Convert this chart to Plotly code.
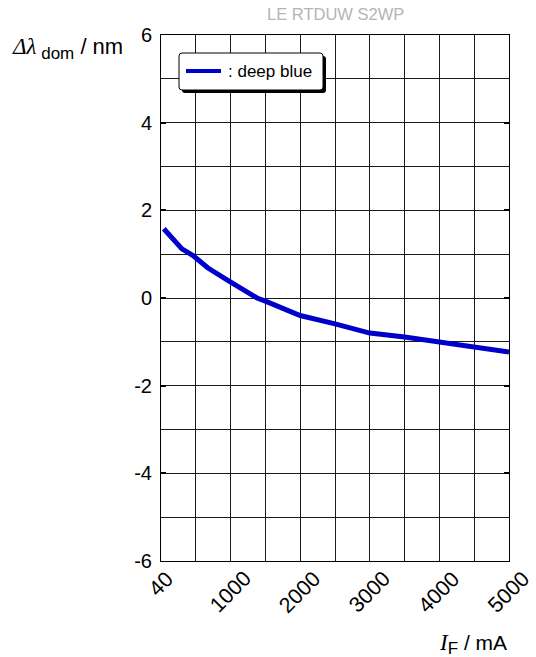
import plotly.graph_objects as go

# Dominant wavelength shift vs. forward current (deep blue)
current_ma = [40, 300, 460, 670, 960, 1380, 1500, 2000, 2500, 3000, 3500, 4000, 4500, 5000]
delta_lambda_nm = [1.58, 1.12, 0.97, 0.69, 0.40, 0.0, -0.07, -0.40, -0.59, -0.80, -0.89, -1.00, -1.12, -1.23]

x_tick_vals = [0, 1000, 2000, 3000, 4000, 5000]
x_tick_text = ["40", "1000", "2000", "3000", "4000", "5000"]
y_tick_vals = [-6, -4, -2, 0, 2, 4, 6]
y_tick_text = ["-6", "-4", "-2", "0", "2", "4", "6"]
series_name = ": deep blue"

FONT = "Liberation Sans, Arial, Helvetica, sans-serif"
SERIF = "Liberation Serif, Times New Roman, serif"
GRID = "#1a1a1a"
LINE_COLOR = "#0000cc"

W, H = 536, 657
ML, MR, MT, MB = 161, 27, 35, 96
PW, PH = W - ML - MR, H - MT - MB


def px_x(p):
    """pixel column -> paper x"""
    return (p - ML) / PW


def px_y(p):
    """pixel row -> paper y"""
    return (H - MB - p) / PH


fig = go.Figure()
fig.add_trace(go.Scatter(
    x=current_ma, y=delta_lambda_nm, mode="lines",
    name=series_name, showlegend=False,
    line=dict(color=LINE_COLOR, width=5),
))

fig.update_layout(
    width=W, height=H,
    margin=dict(l=ML, r=MR, t=MT, b=MB),
    paper_bgcolor="white", plot_bgcolor="white",
    font=dict(family=FONT, size=20, color="black"),
    xaxis=dict(
        range=[0, 5000], tickvals=x_tick_vals, showticklabels=False,
        showgrid=True, gridcolor=GRID, gridwidth=1,
        minor=dict(tickvals=[500, 1500, 2500, 3500, 4500], showgrid=True,
                   gridcolor=GRID, gridwidth=1),
        showline=True, linecolor="black", linewidth=1, mirror=True,
        zeroline=False, ticks="",
    ),
    yaxis=dict(
        range=[-6, 6], tickvals=y_tick_vals, ticktext=y_tick_text,
        showgrid=True, gridcolor=GRID, gridwidth=1,
        minor=dict(tickvals=[-5, -3, -1, 1, 3, 5], showgrid=True,
                   gridcolor=GRID, gridwidth=1),
        showline=True, linecolor="black", linewidth=1, mirror="ticks",
        zeroline=False, ticks="inside", ticklen=5, tickcolor="black",
        tickwidth=2, tickfont=dict(size=20), ticklabelstandoff=4,
    ),
)

# rotated x tick labels, centred under each tick
for v, t in zip(x_tick_vals, x_tick_text):
    fig.add_annotation(text=t, xref="x", yref="paper", x=v, y=0,
                       xanchor="center", yanchor="top", yshift=-3,
                       textangle=-45, showarrow=False,
                       font=dict(size=21.5, color="black", family=FONT))

# legend box: shadow, rounded frame, line sample and label
bx0, bx1, by0, by1 = 179, 323, 53, 90


def rounded(x0, x1, y0, y1, r=3):
    X0, X1 = px_x(x0), px_x(x1)
    Y0, Y1 = px_y(y1), px_y(y0)
    rx, ry = r / PW, r / PH
    return (f"M{X0 + rx},{Y0} L{X1 - rx},{Y0} Q{X1},{Y0} {X1},{Y0 + ry} "
            f"L{X1},{Y1 - ry} Q{X1},{Y1} {X1 - rx},{Y1} L{X0 + rx},{Y1} "
            f"Q{X0},{Y1} {X0},{Y1 - ry} L{X0},{Y0 + ry} Q{X0},{Y0} {X0 + rx},{Y0} Z")


fig.add_shape(type="path", xref="paper", yref="paper",
              path=rounded(bx0 + 3, bx1 + 3, by0 + 3, by1 + 3),
              fillcolor="black", line=dict(width=0), layer="above")
fig.add_shape(type="path", xref="paper", yref="paper",
              path=rounded(bx0, bx1, by0, by1),
              fillcolor="white", line=dict(color="black", width=1), layer="above")
fig.add_shape(type="line", xref="paper", yref="paper",
              x0=px_x(186), x1=px_x(221), y0=px_y(71), y1=px_y(71),
              line=dict(color=LINE_COLOR, width=4), layer="above")
fig.add_annotation(text=series_name, xref="paper", yref="paper",
                   x=px_x(226), y=px_y(71), xanchor="left", yanchor="middle",
                   showarrow=False, font=dict(size=17, color="black", family=FONT))

fig.add_annotation(text="LE RTDUW S2WP", xref="paper", yref="paper",
                   x=0.5, y=1.0, yshift=10, xanchor="center", yanchor="bottom",
                   showarrow=False, font=dict(size=16.5, color="#b4b4b4", family=FONT))
fig.add_annotation(
    text=(f"<i><span style='font-family:{SERIF};font-size:23px'>Δλ</span></i>"
          "<sub><span style='font-size:17px'> dom</span></sub> / nm"),
    xref="paper", yref="paper", x=px_x(125), y=px_y(48),
    xanchor="right", yanchor="middle",
    showarrow=False, font=dict(size=22, color="black", family=FONT))
fig.add_annotation(
    text=(f"<i><span style='font-family:{SERIF};font-size:23px'>I</span></i>"
          "<sub><span style='font-size:17px'>F</span></sub> / mA"),
    xref="paper", yref="paper", x=px_x(509), y=px_y(644),
    xanchor="right", yanchor="middle",
    showarrow=False, font=dict(size=21, color="black", family=FONT))

fig.write_html("out.html")
